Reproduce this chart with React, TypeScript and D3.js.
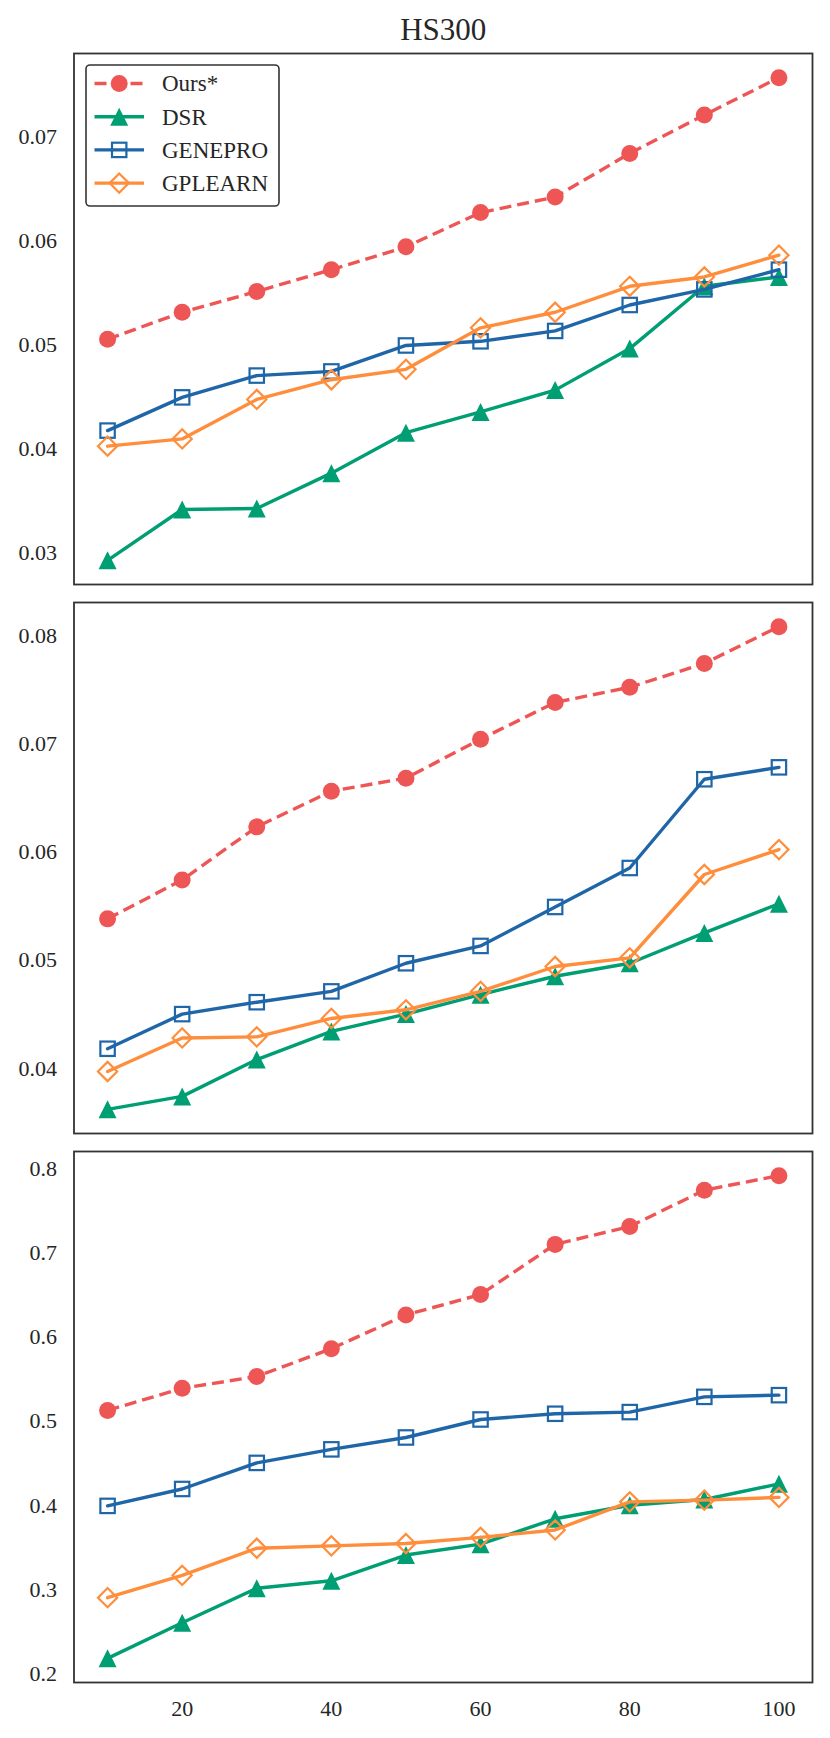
import * as d3 from 'd3'
import React from 'react'

// x: number of samples
const steps = [10, 20, 30, 40, 50, 60, 70, 80, 90, 100]

const seriesNames = ['Ours*', 'DSR', 'GENEPRO', 'GPLEARN']

// panel 1
const oursA = [0.0505, 0.0531, 0.0551, 0.0572, 0.0594, 0.0627, 0.0642, 0.0684, 0.0721, 0.0757]
const dsrA = [0.0292, 0.0341, 0.0342, 0.0376, 0.0415, 0.0435, 0.0456, 0.0496, 0.0556, 0.0565]
const geneproA = [0.0417, 0.0449, 0.047, 0.0474, 0.0499, 0.0503, 0.0513, 0.0538, 0.0553, 0.0572]
const gplearnA = [0.0402, 0.0409, 0.0447, 0.0466, 0.0476, 0.0516, 0.0531, 0.0556, 0.0565, 0.0586]

// panel 2
const oursB = [0.0538, 0.0574, 0.0623, 0.0656, 0.0668, 0.0704, 0.0738, 0.0752, 0.0774, 0.0808]
const dsrB = [0.0362, 0.0374, 0.0408, 0.0434, 0.045, 0.0468, 0.0485, 0.0497, 0.0525, 0.0552]
const geneproB = [0.0418, 0.045, 0.0461, 0.0471, 0.0497, 0.0513, 0.0549, 0.0585, 0.0667, 0.0678]
const gplearnB = [0.0397, 0.0428, 0.0429, 0.0446, 0.0454, 0.0471, 0.0494, 0.0502, 0.0579, 0.0602]

// panel 3
const oursC = [0.5125, 0.5387, 0.5528, 0.5858, 0.626, 0.6502, 0.7098, 0.7311, 0.7742, 0.7915]
const dsrC = [0.2178, 0.2601, 0.3012, 0.31, 0.3406, 0.3535, 0.3837, 0.3998, 0.4066, 0.4252]
const geneproC = [0.399, 0.4191, 0.4501, 0.4662, 0.4803, 0.5017, 0.5085, 0.5105, 0.5286, 0.5306]
const gplearnC = [0.2899, 0.3165, 0.3487, 0.3515, 0.3543, 0.3616, 0.3704, 0.4038, 0.4058, 0.4091]

const panels = [
  { series: [oursA, dsrA, geneproA, gplearnA], fmt: '.2f' },
  { series: [oursB, dsrB, geneproB, gplearnB], fmt: '.2f' },
  { series: [oursC, dsrC, geneproC, gplearnC], fmt: '.1f' },
]

const colors = ['#EE5656', '#009E73', '#1F66A8', '#FF8E3C']
const markers = ['circle', 'triangle', 'square', 'diamond']

const W = 830
const H = 1738
const left = 74
const right = 812.5
const panelTops = [53.5, 602.5, 1151.5]
const panelH = 531
const FONT = 'Liberation Serif, Times New Roman, serif'
const TEXT = '#262626'

// matplotlib-style 5% padding on the data extent
const padded = (ext: [number, number]) => {
  const p = (ext[1] - ext[0]) * 0.05
  return [ext[0] - p, ext[1] + p]
}

const Marker = ({ kind, x, y, color }: { kind: string; x: number; y: number; color: string }) => {
  if (kind === 'circle') return <circle cx={x} cy={y} r={8.5} fill={color} />
  if (kind === 'triangle') {
    const h = 9
    return <path d={`M${x},${y - h}L${x + h},${y + h}L${x - h},${y + h}Z`} fill={color} />
  }
  if (kind === 'square') {
    const s = 7.2
    return <rect x={x - s} y={y - s} width={2 * s} height={2 * s} fill="none" stroke={color} strokeWidth={2.2} />
  }
  const d = 9.6
  return (
    <path
      d={`M${x},${y - d}L${x + d},${y}L${x},${y + d}L${x - d},${y}Z`}
      fill="none"
      stroke={color}
      strokeWidth={2.2}
    />
  )
}

const App = () => {
  const x = d3
    .scaleLinear()
    .domain(padded(d3.extent(steps) as [number, number]))
    .range([left, right])

  return (
    <svg
      width={W}
      height={H}
      style={{ position: 'absolute', left: 0, top: 0, background: '#fff', fontFamily: FONT }}
    >
      <rect width={W} height={H} fill="#fff" />
      <text x={(left + right) / 2} y={39.5} textAnchor="middle" fontSize={31} fill={TEXT}>
        HS300
      </text>

      {panels.map((panel, pi) => {
        const top = panelTops[pi]
        const all = panel.series.flat()
        const y = d3
          .scaleLinear()
          .domain(padded(d3.extent(all) as [number, number]))
          .range([top + panelH, top])
        const fmt = d3.format(panel.fmt)
        const line = d3
          .line<number>()
          .x((_, i) => x(steps[i]))
          .y((v) => y(v))

        return (
          <g key={pi}>
            {y.ticks(5).map((t) => (
              <text
                key={t}
                x={57}
                y={y(t)}
                dy="0.34em"
                textAnchor="end"
                fontSize={22}
                fill={TEXT}
              >
                {fmt(t)}
              </text>
            ))}

            {panel.series.map((vals, si) => (
              <g key={si}>
                <path
                  d={line(vals) ?? ''}
                  fill="none"
                  stroke={colors[si]}
                  strokeWidth={3.4}
                  strokeLinejoin="round"
                  strokeLinecap={si === 0 ? 'butt' : 'round'}
                  strokeDasharray={si === 0 ? '12,6' : undefined}
                />
                {vals.map((v, i) => (
                  <Marker key={i} kind={markers[si]} x={x(steps[i])} y={y(v)} color={colors[si]} />
                ))}
              </g>
            ))}

            <rect
              x={left}
              y={top}
              width={right - left}
              height={panelH}
              fill="none"
              stroke="#333"
              strokeWidth={1.8}
            />

            {pi === 0 && (
              <g>
                <rect
                  x={86}
                  y={65}
                  width={193}
                  height={141}
                  rx={4}
                  fill="#fff"
                  stroke="#333"
                  strokeWidth={1.6}
                />
                {seriesNames.map((name, si) => {
                  const ly = 83.5 + si * 33.2
                  return (
                    <g key={name}>
                      <line
                        x1={94.5}
                        x2={144}
                        y1={ly}
                        y2={ly}
                        stroke={colors[si]}
                        strokeWidth={3.4}
                        strokeDasharray={si === 0 ? '12,6' : undefined}
                      />
                      <Marker kind={markers[si]} x={119.2} y={ly} color={colors[si]} />
                      <text x={162} y={ly} dy="0.34em" fontSize={23} fill={TEXT}>
                        {name}
                      </text>
                    </g>
                  )
                })}
              </g>
            )}
          </g>
        )
      })}

      {x.ticks(5).map((t) => (
        <text key={t} x={x(t)} y={1716} textAnchor="middle" fontSize={22} fill={TEXT}>
          {t}
        </text>
      ))}
    </svg>
  )
}

export default App
